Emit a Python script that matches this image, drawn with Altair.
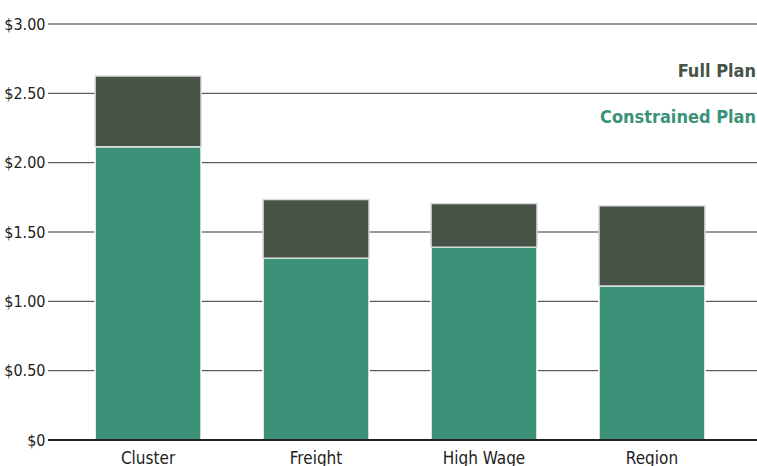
import altair as alt
import pandas as pd

categories = ["Cluster", "Freight", "High Wage", "Region"]
constrained = [2.115, 1.31, 1.39, 1.11]
full = [2.625, 1.735, 1.705, 1.69]
y_ticks = [0, 0.5, 1.0, 1.5, 2.0, 2.5, 3.0]

df = pd.DataFrame({"cat": categories, "constrained": constrained, "full": full, "zero": [0] * 4})

FONT = "DejaVu Sans Condensed, Liberation Sans Narrow, sans-serif"
GREEN = "#3b9279"
DARK = "#465346"
W, H = 709, 416

xscale = alt.Scale(domain=categories, paddingInner=0.369, paddingOuter=0.295, align=0.475)
yscale = alt.Scale(domain=[0, 3], nice=False)
yaxis = alt.Axis(values=y_ticks, labelExpr="datum.value == 0 ? '$0' : '$' + format(datum.value, '.2f')",
                 labelFont=FONT, labelFontSize=16, labelColor="#222", domain=False, ticks=False,
                 grid=False, labelPadding=3, title=None)

xenc = alt.X("cat:N", scale=xscale, sort=categories, title=None,
             axis=alt.Axis(labelAngle=0, labelFont=FONT, labelFontSize=17, labelColor="#222",
                           domain=False, ticks=False, labelPadding=10, grid=False))

grid = alt.Chart(pd.DataFrame({"v": y_ticks})).mark_rule(color="#3a3a3a", strokeWidth=1).encode(
    y=alt.Y("v:Q", scale=yscale, title=None, axis=yaxis),
    x=alt.value(0), x2=alt.value(W),
)

base = alt.Chart(df)
bar_c = base.mark_bar(color=GREEN, stroke="white", strokeWidth=1.5).encode(
    x=xenc, y=alt.Y("zero:Q", scale=yscale, axis=yaxis, title=None), y2="constrained:Q")
bar_f = base.mark_bar(color=DARK, stroke="#dddddd", strokeWidth=1.5).encode(
    x=xenc, y=alt.Y("constrained:Q", scale=yscale, axis=yaxis, title=None), y2="full:Q")

baseline = alt.Chart(pd.DataFrame({"v": [0]})).mark_rule(color="#222", strokeWidth=2).encode(
    y=alt.Y("v:Q", scale=yscale, axis=yaxis, title=None), x=alt.value(0), x2=alt.value(W))

lbl_full = alt.Chart(pd.DataFrame({"t": ["Full Plan"]})).mark_text(
    font=FONT, fontSize=18, fontWeight="bold", color=DARK, align="right", baseline="alphabetic").encode(
    text="t:N", x=alt.value(W - 1), y=alt.value(53))
lbl_con = alt.Chart(pd.DataFrame({"t": ["Constrained Plan"]})).mark_text(
    font=FONT, fontSize=18, fontWeight="bold", color=GREEN, align="right", baseline="alphabetic").encode(
    text="t:N", x=alt.value(W - 1), y=alt.value(99))

chart = alt.layer(grid, bar_c, bar_f, baseline, lbl_full, lbl_con).properties(
    width=W, height=H,
    autosize=alt.AutoSizeParams(type="none"),
    padding={"left": 48, "top": 24, "right": 0, "bottom": 26},
).configure_view(stroke=None).configure_axis(domain=False, ticks=False)

chart.save("out.html", embed_options={"renderer": "svg", "actions": False})
